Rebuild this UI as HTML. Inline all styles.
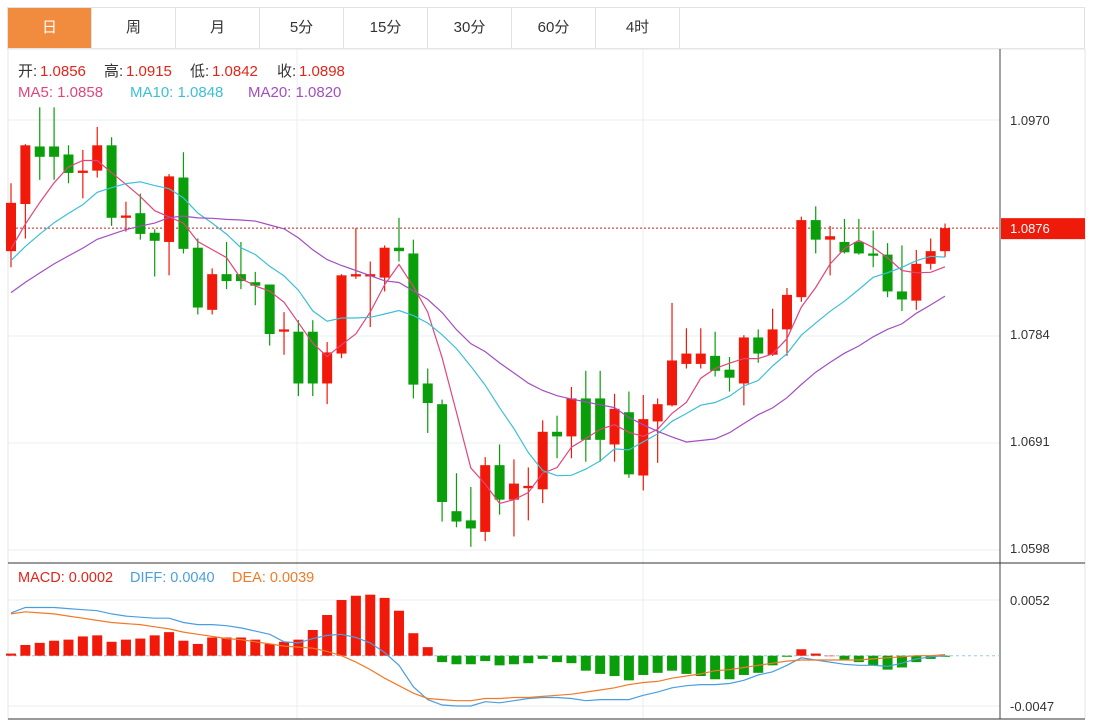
<!DOCTYPE html>
<html><head><meta charset="utf-8"><style>
body{margin:0;background:#fff;width:1098px;height:724px;overflow:hidden;font-family:"Liberation Sans","Noto Sans CJK SC",sans-serif;}
#wrap{position:relative;width:1098px;height:724px;}
.tabs{position:absolute;left:7px;top:7px;height:42px;width:1078px;border:1px solid #e2e2e2;border-bottom:1px solid #e2e2e2;box-sizing:border-box;display:flex;}
.tab{width:84px;height:40px;line-height:40px;text-align:center;font-size:15px;color:#333;border-right:1px solid #e2e2e2;box-sizing:border-box;}
.tab.on{background:#f18b3e;color:#fff;}
svg{position:absolute;left:0;top:0;}
</style></head><body><div id="wrap">
<div class="tabs">
<div class="tab on">日</div>
<div class="tab">周</div>
<div class="tab">月</div>
<div class="tab">5分</div>
<div class="tab">15分</div>
<div class="tab">30分</div>
<div class="tab">60分</div>
<div class="tab">4时</div>
</div>
<svg id="c" width="1098" height="724"></svg>
</div>
<script>
const opens=[1.0856,1.0897,1.0947,1.0947,1.0940,1.0924,1.0926,1.0948,1.0885,1.0889,1.0872,1.0864,1.0920,1.0859,1.0805,1.0836,1.0836,1.0829,1.0827,1.0786,1.0786,1.0786,1.0741,1.0767,1.0834,1.0834,1.0833,1.0859,1.0854,1.0741,1.0723,1.0630,1.0622,1.0612,1.0670,1.0640,1.0650,1.0649,1.0699,1.0695,1.0728,1.0728,1.0688,1.0716,1.0661,1.0708,1.0722,1.0758,1.0758,1.0765,1.0753,1.0741,1.0781,1.0766,1.0788,1.0816,1.0883,1.0866,1.0864,1.0864,1.0854,1.0853,1.0821,1.0813,1.0845,1.0856];
const closes=[1.0898,1.0948,1.0938,1.0938,1.0924,1.0926,1.0948,1.0885,1.0887,1.0871,1.0865,1.0921,1.0858,1.0807,1.0836,1.0830,1.0830,1.0826,1.0784,1.0788,1.0741,1.0741,1.0768,1.0835,1.0836,1.0836,1.0859,1.0856,1.0740,1.0724,1.0638,1.0621,1.0615,1.0670,1.0640,1.0654,1.0652,1.0699,1.0695,1.0728,1.0692,1.0692,1.0719,1.0662,1.0710,1.0723,1.0761,1.0767,1.0767,1.0752,1.0746,1.0781,1.0767,1.0788,1.0818,1.0883,1.0866,1.0869,1.0855,1.0854,1.0852,1.0821,1.0814,1.0845,1.0856,1.0876];
const highs=[1.0915,1.0949,1.0981,1.0981,1.0948,1.0944,1.0964,1.0955,1.0899,1.0906,1.0875,1.0923,1.0942,1.0867,1.0841,1.0864,1.0864,1.0838,1.0827,1.0803,1.0796,1.0796,1.0777,1.0836,1.0876,1.0847,1.0861,1.0885,1.0866,1.0754,1.0727,1.0663,1.0651,1.0677,1.0688,1.0675,1.0668,1.0709,1.0713,1.0738,1.0752,1.0752,1.0732,1.0734,1.0731,1.0728,1.0811,1.0789,1.0789,1.0786,1.0764,1.0783,1.0788,1.0806,1.0824,1.0886,1.0895,1.0878,1.0884,1.0884,1.0874,1.0863,1.0861,1.0857,1.0867,1.0880];
const lows=[1.0842,1.0867,1.0918,1.0918,1.0915,1.0902,1.0920,1.0878,1.0873,1.0866,1.0834,1.0835,1.0854,1.0801,1.0801,1.0823,1.0823,1.0809,1.0774,1.0766,1.0730,1.0730,1.0723,1.0763,1.0832,1.0790,1.0821,1.0847,1.0728,1.0698,1.0621,1.0616,1.0599,1.0604,1.0627,1.0608,1.0622,1.0637,1.0676,1.0676,1.0673,1.0673,1.0673,1.0659,1.0648,1.0672,1.0721,1.0754,1.0754,1.0747,1.0734,1.0722,1.0759,1.0765,1.0765,1.0812,1.0854,1.0835,1.0854,1.0853,1.0842,1.0816,1.0804,1.0805,1.0840,1.0851];
const priorCloses=[1.0770,1.0775,1.0780,1.0785,1.0790,1.0795,1.0800,1.0805,1.0810,1.0812,1.0825,1.0832,1.0838,1.0843,1.0850,1.0840,1.0845,1.0852,1.0855];
const macdVals=[0.0002,0.0010,0.0012,0.0014,0.0015,0.0018,0.0019,0.0013,0.0015,0.0016,0.0019,0.0022,0.0014,0.0011,0.0017,0.0017,0.0017,0.0015,0.0011,0.0013,0.0015,0.0024,0.0038,0.0052,0.0056,0.0057,0.0054,0.0042,0.0021,0.0008,-0.0006,-0.0008,-0.0008,-0.0005,-0.0009,-0.0008,-0.0007,-0.0003,-0.0006,-0.0007,-0.0014,-0.0017,-0.0019,-0.0023,-0.0018,-0.0016,-0.0014,-0.0017,-0.0019,-0.0022,-0.0022,-0.0018,-0.0016,-0.0009,-0.0001,0.0006,0.0002,0.0000,-0.0004,-0.0006,-0.0009,-0.0013,-0.0011,-0.0006,-0.0003,-0.0001];
const diffVals=[0.0040,0.0045,0.0045,0.0045,0.0044,0.0043,0.0042,0.0039,0.0037,0.0036,0.0035,0.0035,0.0031,0.0029,0.0029,0.0028,0.0026,0.0023,0.0020,0.0013,0.0012,0.0016,0.0019,0.0020,0.0017,0.0012,0.0003,-0.0009,-0.0029,-0.0041,-0.0046,-0.0047,-0.0047,-0.0043,-0.0044,-0.0042,-0.0040,-0.0039,-0.0039,-0.0040,-0.0042,-0.0041,-0.0041,-0.0041,-0.0037,-0.0034,-0.0030,-0.0028,-0.0027,-0.0027,-0.0026,-0.0023,-0.0018,-0.0015,-0.0009,-0.0002,-0.0004,-0.0006,-0.0008,-0.0009,-0.0009,-0.0010,-0.0007,-0.0003,-0.0001,0.0000];
const deaVals=[0.0039,0.0041,0.0040,0.0039,0.0037,0.0035,0.0033,0.0031,0.0030,0.0029,0.0027,0.0025,0.0022,0.0020,0.0018,0.0016,0.0015,0.0013,0.0011,0.0009,0.0008,0.0007,0.0004,0.0000,-0.0006,-0.0013,-0.0021,-0.0028,-0.0035,-0.0040,-0.0041,-0.0042,-0.0042,-0.0040,-0.0040,-0.0039,-0.0039,-0.0038,-0.0037,-0.0036,-0.0034,-0.0032,-0.0030,-0.0027,-0.0025,-0.0024,-0.0021,-0.0019,-0.0017,-0.0014,-0.0013,-0.0011,-0.0009,-0.0007,-0.0005,-0.0004,-0.0004,-0.0004,-0.0004,-0.0004,-0.0003,-0.0002,-0.0001,0.0000,0.0000,0.0001];
const priceTicks=["1.0970","1.0784","1.0691","1.0598"];
const macdTicks=["0.0052","-0.0047"];

const R='#f0190a',G='#0a9e0a';
const svg=document.getElementById('c');const NS='http://www.w3.org/2000/svg';
function mk(t,a,p){const e=document.createElementNS(NS,t);for(const k in a)e.setAttribute(k,a[k]);(p||svg).appendChild(e);return e;}
const xOf=i=>11+i*14.37;
const yP=v=>120+(1.0970-v)/0.0093*107;
const yM=v=>655.7-v*10707;
mk('rect',{x:8,y:49,width:1077,height:670,fill:'none',stroke:'#e6e6e6'});
[120,336,443,550].forEach(y=>{const l=mk('line',{x1:8,x2:1000,y1:y,y2:y,stroke:'#e8edf2'});});
[600,706].forEach(y=>{const l=mk('line',{x1:8,x2:1000,y1:y,y2:y,stroke:'#e8edf2'});});
[297,643].forEach(x=>{mk('line',{x1:x,x2:x,y1:49,y2:719,stroke:'#e8edf2'});});
mk('line',{x1:1000,x2:1000,y1:49,y2:719,stroke:'#444'});
mk('line',{x1:8,x2:1085,y1:563,y2:563,stroke:'#333'});
mk('line',{x1:8,x2:1085,y1:719,y2:719,stroke:'#333'});
priceTicks.forEach((t,i)=>{const e=mk('text',{x:1010,y:yP(parseFloat(t))+5,'font-size':13,fill:'#333'});e.textContent=t;});
macdTicks.forEach(t=>{const e=mk('text',{x:1010,y:yM(parseFloat(t))+5,'font-size':13,fill:'#333'});e.textContent=t;});
const last=closes[closes.length-1];
mk('line',{x1:8,x2:1000,y1:yP(last),y2:yP(last),stroke:'#c8201a','stroke-dasharray':'2,2'});
mk('rect',{x:1001,y:yP(last)-10,width:84,height:21,fill:'#ee1a0a'});
const lt=mk('text',{x:1010,y:yP(last)+5,'font-size':13,fill:'#fff'});lt.textContent=last.toFixed(4);

for(let i=0;i<opens.length;i++){
 const up=closes[i]>=opens[i],c=up?R:G,x=xOf(i);
 const g=mk('g',{});
 
 mk('line',{x1:x,x2:x,y1:yP(highs[i]),y2:yP(lows[i]),stroke:c,'stroke-width':1.2},g);
 const t=yP(Math.max(opens[i],closes[i])),b=yP(Math.min(opens[i],closes[i]));
 mk('rect',{x:x-5,y:t,width:10,height:Math.max(b-t,1.5),fill:c},g);
}
const all=priorCloses.concat(closes);
function ma(n){const r=[];for(let i=0;i<closes.length;i++){const j=i+priorCloses.length;let s=0;for(let k=j-n+1;k<=j;k++)s+=all[k];r.push(s/n);}return r;}
[[5,'#e0467c'],[10,'#3cbfd6'],[20,'#a14fc0']].forEach(([n,col])=>{const m=ma(n);const p=mk('polyline',{points:m.map((v,i)=>xOf(i).toFixed(1)+','+yP(v).toFixed(1)).join(' '),fill:'none',stroke:col,'stroke-width':1.2});});
mk('line',{x1:8,x2:1000,y1:yM(0),y2:yM(0),stroke:'#9cc8e0','stroke-dasharray':'3,3'});
macdVals.forEach((v,i)=>{const y0=yM(0),y1=yM(v);const r=mk('rect',{x:xOf(i)-5,y:Math.min(y0,y1),width:10,height:Math.max(Math.abs(y1-y0),0.5),fill:v>=0?R:G});});
[[diffVals,'#4a9ee0','diff-line'],[deaVals,'#f07a28','dea-line']].forEach(([a,col,nm])=>{const p=mk('polyline',{points:a.map((v,i)=>xOf(i).toFixed(1)+','+yM(v).toFixed(1)).join(' '),fill:'none',stroke:col,'stroke-width':1.2});});
function txt(y,fs,parts,nm){const e=mk('text',{y:y,'font-size':fs});parts.forEach(([x,s,c])=>{const t=mk('tspan',{x:x,fill:c},e);t.textContent=s;});}
txt(76,15,[[18,'开:','#333'],[40,'1.0856','#e0261a'],[104,'高:','#333'],[126,'1.0915','#e0261a'],[190,'低:','#333'],[212,'1.0842','#e0261a'],[277,'收:','#333'],[299,'1.0898','#e0261a']],'ohlc-legend');
txt(97,15,[[18,'MA5: 1.0858','#e0467c'],[130,'MA10: 1.0848','#3cbfd6'],[248,'MA20: 1.0820','#a14fc0']],'ma-legend');
txt(582,14.5,[[18,'MACD: 0.0002','#e0261a'],[130,'DIFF: 0.0040','#4a9ee0'],[232,'DEA: 0.0039','#f07a28']],'macd-legend');
</script></body></html>
